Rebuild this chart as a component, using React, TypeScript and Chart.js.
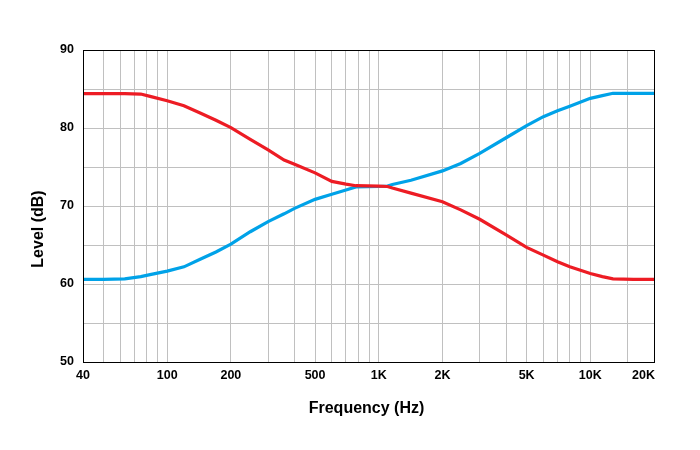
import React, { useEffect, useRef } from 'react';
import { Chart, registerables } from 'chart.js';

Chart.register(...registerables);

// Frequencies (Hz) at which the curves were read
const FREQUENCIES = [40, 50, 63, 75, 83, 100, 120, 144, 170, 200, 247, 300, 357, 400, 500, 600, 700, 780, 1000, 1100, 1160, 1420, 2000, 2440, 3000, 4000, 5000, 6000, 7000, 8000, 10000, 11400, 12800, 16000, 20000];

// Red curve (falling) levels in dB
const RED_LEVELS = [84.4, 84.4, 84.4, 84.35, 84.05, 83.5, 82.85, 81.9, 81.0, 80.05, 78.55, 77.2, 75.9, 75.35, 74.25, 73.15, 72.8, 72.6, 72.55, 72.5, 72.3, 71.65, 70.55, 69.5, 68.3, 66.3, 64.7, 63.7, 62.85, 62.2, 61.35, 60.95, 60.65, 60.6, 60.6];

// Blue curve (rising) levels in dB
const BLUE_LEVELS = [60.6, 60.6, 60.65, 60.95, 61.2, 61.65, 62.2, 63.2, 64.1, 65.1, 66.7, 68.0, 69.0, 69.7, 70.85, 71.5, 72.05, 72.45, 72.5, 72.55, 72.75, 73.3, 74.5, 75.45, 76.75, 78.75, 80.3, 81.45, 82.2, 82.8, 83.8, 84.15, 84.45, 84.45, 84.45];

// Vertical grid lines (Hz)
const GRID_FREQS = [40, 50, 60, 70, 80, 90, 100, 200, 300, 400, 500, 600, 700, 800, 900, 1000, 2000, 3000, 4000, 5000, 6000, 7000, 8000, 9000, 10000, 15000, 20000];

// Labelled x ticks
const TICK_FREQS = [40, 100, 200, 500, 1000, 2000, 5000, 10000, 20000];
const TICK_LABELS = ['40', '100', '200', '500', '1K', '2K', '5K', '10K', '20K'];

// Y axis
const Y_MIN = 50;
const Y_MAX = 90;
const Y_STEP = 5;
const Y_LABEL_STEP = 10;

const X_TITLE = 'Frequency (Hz)';
const Y_TITLE = 'Level (dB)';

const RED = '#ED1C24';
const BLUE = '#00A2E8';
const GRID = '#C0C0C0';
const FONT_FAMILY = "'Liberation Sans', Arial, Helvetica, sans-serif";

const framePlugin = {
  id: 'frameAndTitles',
  afterDraw(chart: any) {
    const { ctx, chartArea } = chart;
    const { left, right, top, bottom } = chartArea;
    ctx.save();
    ctx.strokeStyle = '#000000';
    ctx.lineWidth = 1;
    ctx.strokeRect(Math.round(left) + 0.5, Math.round(top) + 0.5, Math.round(right - left), Math.round(bottom - top));

    ctx.fillStyle = '#000000';
    ctx.font = `bold 16px ${FONT_FAMILY}`;
    ctx.textAlign = 'center';
    ctx.textBaseline = 'alphabetic';
    ctx.fillText(X_TITLE, (left + right) / 2 - 2, 413);

    ctx.translate(42.5, 229);
    ctx.rotate(-Math.PI / 2);
    ctx.fillText(Y_TITLE, 0, 0);
    ctx.restore();
  },
};

export default function App() {
  const canvasRef = useRef<HTMLCanvasElement | null>(null);

  useEffect(() => {
    const canvas = canvasRef.current;
    if (!canvas) return;

    const tickFont = { family: FONT_FAMILY, size: 12.5, weight: 'bold' as const };

    const chart = new Chart(canvas, {
      type: 'line',
      data: {
        datasets: [
          {
            label: 'Red',
            data: FREQUENCIES.map((f, i) => ({ x: f, y: RED_LEVELS[i] })),
            borderColor: RED,
            backgroundColor: RED,
            borderWidth: 3.2,
            pointRadius: 0,
            tension: 0,
          },
          {
            label: 'Blue',
            data: FREQUENCIES.map((f, i) => ({ x: f, y: BLUE_LEVELS[i] })),
            borderColor: BLUE,
            backgroundColor: BLUE,
            borderWidth: 3.2,
            pointRadius: 0,
            tension: 0,
          },
        ],
      },
      options: {
        responsive: false,
        animation: false,
        devicePixelRatio: 1,
        layout: { padding: { top: 50, right: 46, left: 0, bottom: 0 } },
        plugins: {
          legend: { display: false },
          tooltip: { enabled: false },
        },
        scales: {
          x: {
            type: 'logarithmic',
            min: FREQUENCIES[0],
            max: FREQUENCIES[FREQUENCIES.length - 1],
            afterBuildTicks: (scale: any) => {
              scale.ticks = GRID_FREQS.map((v) => ({ value: v }));
            },
            afterFit: (scale: any) => {
              scale.height = 88;
            },
            grid: { color: GRID, lineWidth: 1, drawTicks: false },
            border: { display: false },
            ticks: {
              autoSkip: false,
              maxRotation: 0,
              minRotation: 0,
              padding: 6,
              color: '#000000',
              font: tickFont,
              callback: (value: any) => {
                const idx = TICK_FREQS.indexOf(Number(value));
                if (idx < 0) return '';
                const label = TICK_LABELS[idx];
                return idx === TICK_FREQS.length - 1 ? label + '\u00a0\u00a0\u00a0\u00a0\u00a0\u00a0' : label;
              },
            },
          },
          y: {
            type: 'linear',
            min: Y_MIN,
            max: Y_MAX,
            afterFit: (scale: any) => {
              scale.width = 83;
            },
            grid: { color: GRID, lineWidth: 1, drawTicks: false },
            border: { display: false },
            ticks: {
              stepSize: Y_STEP,
              padding: 9,
              color: '#000000',
              font: tickFont,
              callback: (value: any) => (Number(value) % Y_LABEL_STEP === 0 ? String(value) : ''),
            },
          },
        },
      },
      plugins: [framePlugin],
    });

    return () => {
      chart.destroy();
    };
  }, []);

  return (
    <div style={{ position: 'absolute', left: 0, top: 0, width: 700, height: 450, background: '#ffffff' }}>
      <canvas ref={canvasRef} width={700} height={450} style={{ display: 'block' }} />
    </div>
  );
}
